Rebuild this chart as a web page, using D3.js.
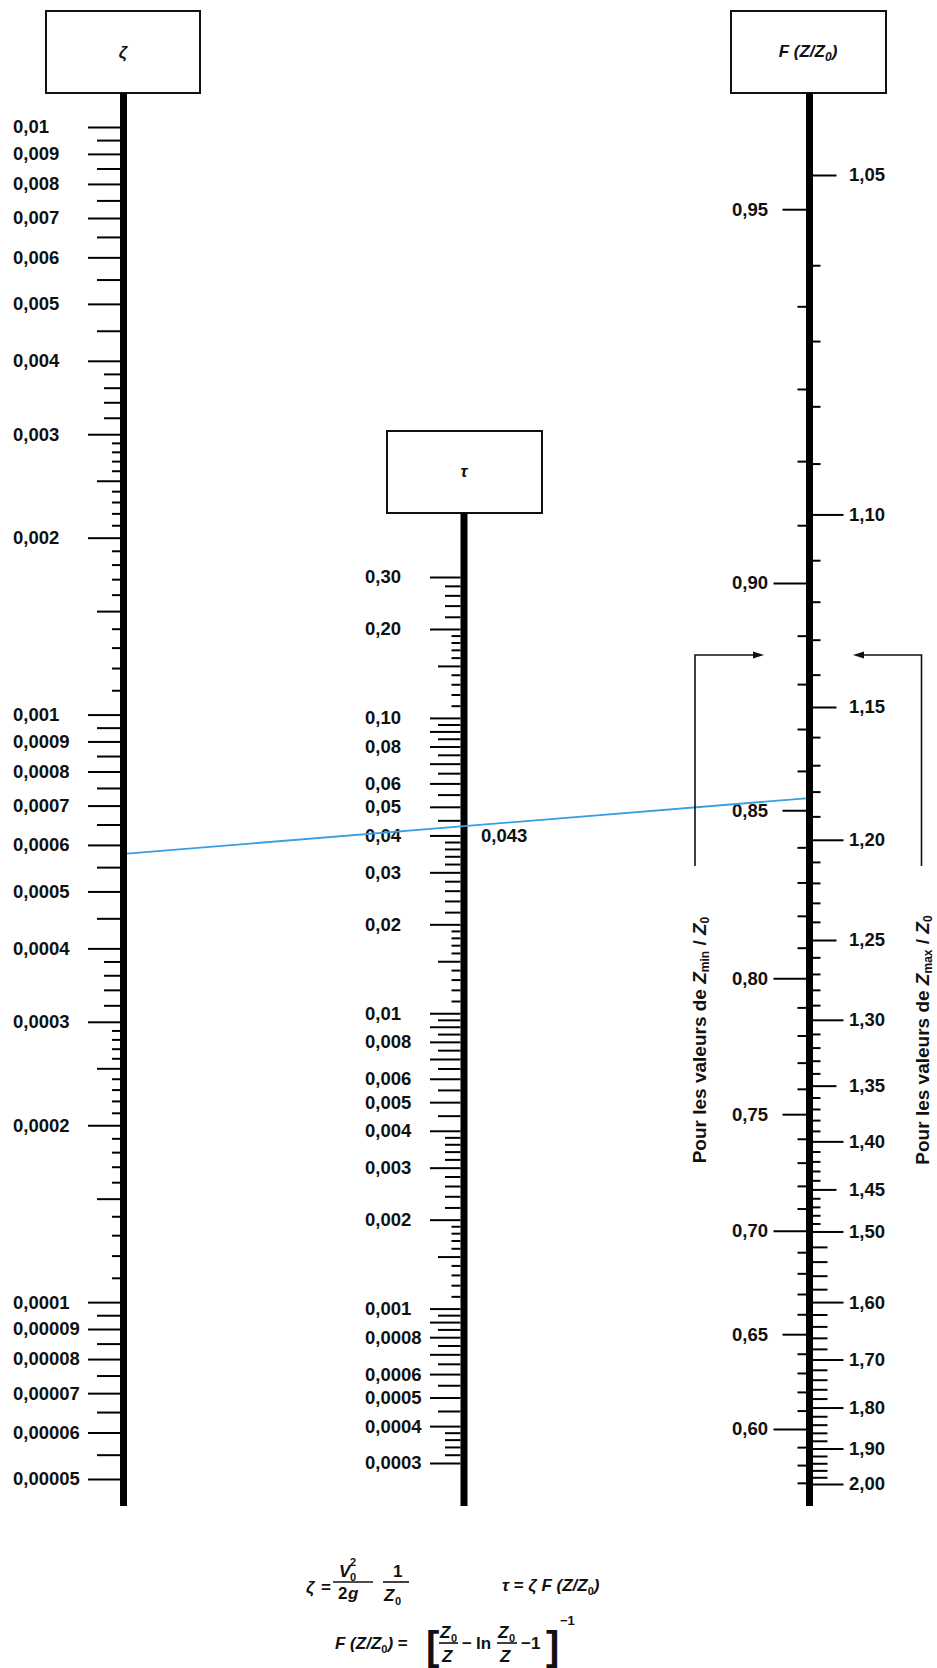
<!DOCTYPE html>
<html>
<head>
<meta charset="utf-8">
<script src="https://cdn.jsdelivr.net/npm/d3@7"></script>
<style>
body { margin: 0; background: #fff; }
svg { display: block; font-family: "Liberation Sans", Arial, sans-serif; }
.lbl text { font-size: 18.5px; fill: #111; font-weight: 600; }
.math { font-size: 17px; fill: #111; font-weight: 600; }
</style>
</head>
<body>
<div id="chart"></div>
<script>
////////////////////////////////////////////////////////////////////////////////
// Data : graduations
////////////////////////////////////////////////////////////////////////////////

// zeta scale (left)
var zetaLabels = [0.01, 0.009, 0.008, 0.007, 0.006, 0.005, 0.004, 0.003, 0.002,
  0.001, 0.0009, 0.0008, 0.0007, 0.0006, 0.0005, 0.0004, 0.0003, 0.0002,
  0.0001, 0.00009, 0.00008, 0.00007, 0.00006, 0.00005];
var zetaMedium = [0.0095, 0.0085, 0.0075, 0.0065, 0.0055, 0.0045, 0.0025, 0.0015,
  0.00095, 0.00085, 0.00075, 0.00065, 0.00055, 0.00045, 0.00025, 0.00015,
  0.000095, 0.000085, 0.000075, 0.000065, 0.000055];
var zetaShort = [0.0038, 0.0036, 0.0034, 0.0032, 0.00038, 0.00036, 0.00034, 0.00032];
var zetaMinor = [0.0029, 0.0028, 0.0027, 0.0026, 0.0024, 0.0023, 0.0022, 0.0021,
  0.0019, 0.0018, 0.0017, 0.0016, 0.0014, 0.0013, 0.0012, 0.0011,
  0.00029, 0.00028, 0.00027, 0.00026, 0.00024, 0.00023, 0.00022, 0.00021,
  0.00019, 0.00018, 0.00017, 0.00016, 0.00014, 0.00013, 0.00012, 0.00011];

// tau scale (middle)
var tauLabels = [0.3, 0.2, 0.1, 0.08, 0.06, 0.05, 0.04, 0.03, 0.02,
  0.01, 0.008, 0.006, 0.005, 0.004, 0.003, 0.002,
  0.001, 0.0008, 0.0006, 0.0005, 0.0004, 0.0003];
var tauLong = [0.09, 0.07, 0.009, 0.007, 0.0009, 0.0007];
var tauMedium = [0.15, 0.095, 0.085, 0.075, 0.065, 0.055, 0.045,
  0.015, 0.0095, 0.0085, 0.0075, 0.0065, 0.0055, 0.0045,
  0.0015, 0.00095, 0.00085, 0.00075, 0.00065, 0.00055, 0.00045];
var tauShort = [0.28, 0.26, 0.24, 0.22, 0.038, 0.036, 0.034, 0.032,
  0.028, 0.026, 0.024, 0.022, 0.0038, 0.0036, 0.0034, 0.0032,
  0.0028, 0.0026, 0.0024, 0.0022, 0.00038, 0.00036, 0.00034, 0.00032];
var tauMinor = [0.19, 0.18, 0.17, 0.16, 0.14, 0.13, 0.12, 0.11,
  0.019, 0.018, 0.017, 0.016, 0.014, 0.013, 0.012, 0.011,
  0.0019, 0.0018, 0.0017, 0.0016, 0.0014, 0.0013, 0.0012, 0.0011];

// Z/Z0 scale (right), left side = Zmin/Z0, right side = Zmax/Z0
var minLabelsLong = [0.90, 0.80, 0.70, 0.60];
var minLabelsMid = [0.95, 0.85, 0.75, 0.65];
var minMinor = [0.94, 0.93, 0.92, 0.91, 0.89, 0.88, 0.87, 0.86, 0.84, 0.83, 0.82, 0.81,
  0.79, 0.78, 0.77, 0.76, 0.74, 0.73, 0.72, 0.71, 0.69, 0.68, 0.67, 0.66,
  0.64, 0.63, 0.62, 0.61, 0.59, 0.58, 0.57];
var maxLabelsLong = [1.10, 1.20, 1.30, 1.40, 1.50, 1.60, 1.70, 1.80, 1.90, 2.00];
var maxLabelsMid = [1.05, 1.15, 1.25, 1.35, 1.45];
var maxMinorFine = [1.06, 1.07, 1.08, 1.09, 1.11, 1.12, 1.13, 1.14, 1.16, 1.17, 1.18, 1.19,
  1.21, 1.22, 1.23, 1.24, 1.26, 1.27, 1.28, 1.29, 1.31, 1.32, 1.33, 1.34,
  1.36, 1.37, 1.38, 1.39, 1.41, 1.42, 1.43, 1.44, 1.46, 1.47, 1.48, 1.49];
var maxMinorCoarse = [1.52, 1.54, 1.56, 1.58, 1.62, 1.64, 1.66, 1.68, 1.72, 1.74, 1.76, 1.78,
  1.82, 1.84, 1.86, 1.88, 1.92, 1.94, 1.96, 1.98];

// worked example drawn in blue
var exampleZeta = 0.00058;
var exampleTau = 0.043;
var exampleLabel = "0,043";

////////////////////////////////////////////////////////////////////////////////
// Scales
////////////////////////////////////////////////////////////////////////////////
var W = 937, H = 1668;
var xZeta = 123.5, xTau = 464, xF = 809.5, half = 3.5;   // axis centres
var axisBottom = 1506;

var zetaScale = d3.scaleLog().domain([0.01, 0.00005]).range([127, 1479]);
var tauScale = d3.scaleLog().domain([0.3, 0.0003]).range([577, 1463]);

// F(Z/Z0) = [Z0/Z - ln(Z0/Z) - 1]^-1, graduated in Z/Z0
function F(r) { return 1 / (1 / r + Math.log(r) - 1); }
var fLog = d3.scaleLog().domain([F(1.05), F(2.0)]).range([175, 1484]);
function ratioScale(r) { return fLog(F(r)); }
ratioScale.range = function() { return fLog.range(); };
ratioScale.domain = function() { return [1.05, 2.0]; };
ratioScale.copy = function() { return ratioScale; };

function comma(v) { return String(v).replace(".", ","); }
function comma2(v) { return v.toFixed(2).replace(".", ","); }

var svg = d3.select("#chart").append("svg")
  .attr("width", W)
  .attr("height", H);

////////////////////////////////////////////////////////////////////////////////
// Draw one set of ticks through a d3 axis
////////////////////////////////////////////////////////////////////////////////
function ticks(x, scale, values, size, right, fmt) {
  var axis = (right ? d3.axisRight(scale) : d3.axisLeft(scale))
    .tickValues(values)
    .tickSize(size)
    .tickFormat(fmt || "");
  var g = svg.append("g")
    .attr("class", "lbl")
    .attr("transform", "translate(" + x + ",0)")
    .call(axis);
  g.attr("font-size", null).attr("font-family", null);
  g.select(".domain").remove();
  g.selectAll("line").attr("stroke", "#000").attr("stroke-width", 2);
  return g;
}

// header boxes
function box(x0, x1, y0, y1) {
  svg.append("rect")
    .attr("x", x0).attr("y", y0)
    .attr("width", x1 - x0).attr("height", y1 - y0)
    .attr("fill", "#fff").attr("stroke", "#111").attr("stroke-width", 2);
}
box(46, 200, 11, 93);
box(387, 542, 431, 513);
box(731, 886, 11, 93);

svg.append("text").attr("class", "math").attr("x", 123).attr("y", 58)
  .attr("text-anchor", "middle").style("font-style", "italic").text("ζ");
svg.append("text").attr("class", "math").attr("x", 464).attr("y", 477)
  .attr("text-anchor", "middle").style("font-style", "italic").text("τ");
var fz = svg.append("text").attr("class", "math").attr("x", 808).attr("y", 57)
  .attr("text-anchor", "middle").style("font-style", "italic");
fz.append("tspan").text("F (Z/Z");
fz.append("tspan").attr("dy", 4).style("font-size", "12px").text("0");
fz.append("tspan").attr("dy", -4).text(")");

// thick scale lines
[[xZeta, 93], [xTau, 513], [xF, 93]].forEach(function(a) {
  svg.append("rect")
    .attr("x", a[0] - half).attr("y", a[1])
    .attr("width", half * 2).attr("height", axisBottom - a[1])
    .attr("fill", "#000");
});

////////////////////////////////////////////////////////////////////////////////
// zeta
////////////////////////////////////////////////////////////////////////////////
var zl = xZeta - half;
ticks(zl, zetaScale, zetaMinor, 8);
ticks(zl, zetaScale, zetaShort, 16);
ticks(zl, zetaScale, zetaMedium, 23);
ticks(zl, zetaScale, zetaLabels, 32, false, comma)
  .selectAll("text").attr("x", 13 - zl).attr("text-anchor", "start");

////////////////////////////////////////////////////////////////////////////////
// tau
////////////////////////////////////////////////////////////////////////////////
var tl = xTau - half;
ticks(tl, tauScale, tauMinor, 9);
ticks(tl, tauScale, tauShort, 15.5);
ticks(tl, tauScale, tauMedium, 22.5);
ticks(tl, tauScale, tauLong, 30.5);
ticks(tl, tauScale, tauLabels, 30.5, false, function(v) { return v >= 0.1 ? comma2(v) : comma(v); })
  .selectAll("text").attr("x", 365 - tl).attr("text-anchor", "start");

////////////////////////////////////////////////////////////////////////////////
// Z/Z0
////////////////////////////////////////////////////////////////////////////////
var fl = xF - half, fr = xF + half;
ticks(fl, ratioScale, minMinor, 8.5);
ticks(fl, ratioScale, minLabelsMid, 23.5, false, comma2)
  .selectAll("text").attr("x", 768 - fl);
ticks(fl, ratioScale, minLabelsLong, 32.5, false, comma2)
  .selectAll("text").attr("x", 768 - fl);
ticks(fr, ratioScale, maxMinorFine, 7.5, true);
ticks(fr, ratioScale, maxMinorCoarse, 14.5, true);
ticks(fr, ratioScale, maxLabelsMid, 23.5, true, comma2)
  .selectAll("text").attr("x", 849 - fr);
ticks(fr, ratioScale, maxLabelsLong, 30.5, true, comma2)
  .selectAll("text").attr("x", 849 - fr);

////////////////////////////////////////////////////////////////////////////////
// worked example line, extended from zeta through tau to the F scale
////////////////////////////////////////////////////////////////////////////////
var p0 = [xZeta + half, zetaScale(exampleZeta)];
var pt = [xTau, tauScale(exampleTau)];
var slope = (pt[1] - p0[1]) / (pt[0] - p0[0]);
var p1 = [xF - half, p0[1] + slope * (xF - half - p0[0])];
svg.append("line")
  .attr("x1", p0[0]).attr("y1", p0[1])
  .attr("x2", p1[0]).attr("y2", p1[1])
  .attr("stroke", "#3a9fe2").attr("stroke-width", 1.8);
svg.append("text")
  .attr("x", 481).attr("y", pt[1] + 16)
  .style("font-size", "18.5px").style("font-weight", 600).attr("fill", "#111")
  .text(exampleLabel);

////////////////////////////////////////////////////////////////////////////////
// Zmin / Zmax brackets
////////////////////////////////////////////////////////////////////////////////
function bracket(xv, xtip, dir) {
  svg.append("path")
    .attr("d", "M" + xv + ",866 V655 H" + (xtip - dir * 8))
    .attr("fill", "none").attr("stroke", "#111").attr("stroke-width", 1.6);
  svg.append("path")
    .attr("d", "M" + xtip + ",655 L" + (xtip - dir * 11) + ",651.5 L" + (xtip - dir * 11) + ",658.5 Z")
    .attr("fill", "#111");
}
bracket(695, 764, 1);
bracket(921.5, 853, -1);

function sideText(x, sub) {
  var t = svg.append("text")
    .attr("transform", "translate(" + x + ",1040) rotate(-90)")
    .attr("text-anchor", "middle")
    .style("font-size", "19px").style("font-weight", 600).attr("fill", "#111");
  t.append("tspan").text("Pour les valeurs de ");
  t.append("tspan").style("font-style", "italic").text("Z");
  t.append("tspan").attr("dy", 3).style("font-size", "12px").text(sub);
  t.append("tspan").attr("dy", -3).text(" / ");
  t.append("tspan").style("font-style", "italic").text("Z");
  t.append("tspan").attr("dy", 3).style("font-size", "12px").text("0");
}
sideText(706, "min");
sideText(929, "max");

////////////////////////////////////////////////////////////////////////////////
// formulas
////////////////////////////////////////////////////////////////////////////////
function txt(x, y, s, opts) {
  opts = opts || {};
  return svg.append("text").attr("class", "math")
    .attr("x", x).attr("y", y)
    .attr("text-anchor", opts.anchor || "start")
    .style("font-style", opts.italic ? "italic" : "normal")
    .style("font-size", opts.size ? opts.size + "px" : null)
    .text(s);
}
function bar(x0, x1, y) {
  svg.append("line").attr("x1", x0).attr("x2", x1).attr("y1", y).attr("y2", y)
    .attr("stroke", "#111").attr("stroke-width", 1.6);
}

// zeta = V0^2 / 2g * 1 / Z0
txt(306, 1593, "ζ", { italic: true });
txt(321, 1593, "=");
txt(339, 1577, "V", { italic: true });
txt(350, 1581, "0", { size: 11 });
txt(350, 1566, "2", { size: 11 });
bar(333, 373, 1582);
txt(338, 1599, "2", {});
txt(348, 1599, "g", { italic: true });
txt(393, 1577, "1");
bar(383, 409, 1582);
txt(384, 1601, "Z", { italic: true });
txt(395, 1605, "0", { size: 11 });

// tau = zeta F(Z/Z0)
var t1 = txt(502, 1591, "");
t1.append("tspan").style("font-style", "italic").text("τ");
t1.append("tspan").text(" = ");
t1.append("tspan").style("font-style", "italic").text("ζ F (Z/Z");
t1.append("tspan").attr("dy", 4).style("font-size", "11px").text("0");
t1.append("tspan").attr("dy", -4).style("font-style", "italic").text(")");

// F(Z/Z0) = [Z0/Z - ln Z0/Z - 1]^-1
var t2 = txt(335, 1649, "");
t2.append("tspan").style("font-style", "italic").text("F (Z/Z");
t2.append("tspan").attr("dy", 4).style("font-size", "11px").text("0");
t2.append("tspan").attr("dy", -4).style("font-style", "italic").text(")");
t2.append("tspan").text(" =");
txt(426, 1660, "[", { size: 40 });
txt(440, 1638, "Z", { italic: true });
txt(451, 1642, "0", { size: 11 });
bar(439, 458, 1643);
txt(442, 1662, "Z", { italic: true });
txt(462, 1649, "−");
txt(476, 1649, "ln");
txt(498, 1638, "Z", { italic: true });
txt(509, 1642, "0", { size: 11 });
bar(497, 517, 1643);
txt(500, 1662, "Z", { italic: true });
txt(521, 1649, "−1");
txt(546, 1660, "]", { size: 40 });
txt(560, 1625, "−1", { size: 13 });
</script>
</body>
</html>
